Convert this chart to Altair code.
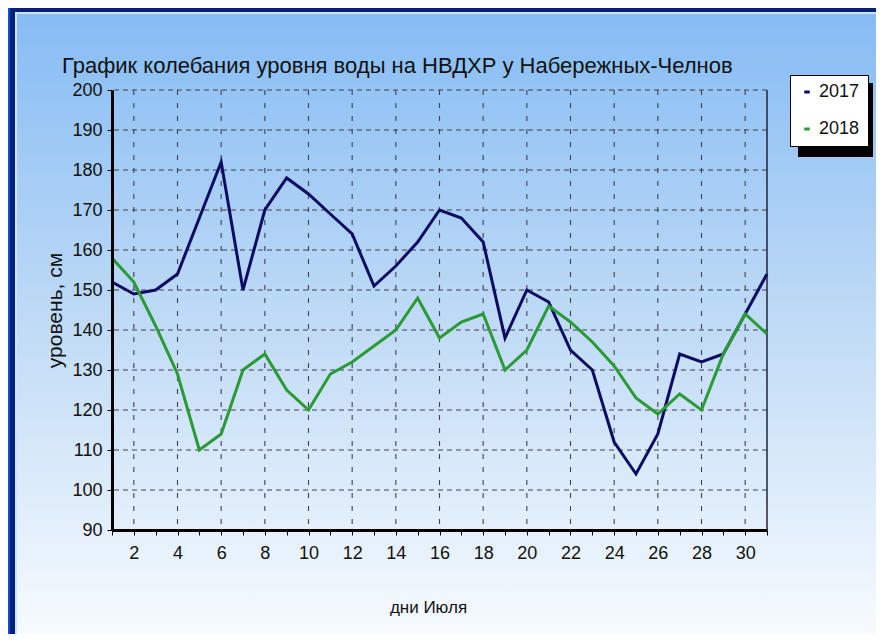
import altair as alt
import pandas as pd

# ---- data ----
days = list(range(1, 32))
lvl_2017 = [152, 149, 150, 154, 168, 182, 150, 170, 178, 174, 169, 164, 151, 156, 162, 170,
            168, 162, 138, 150, 147, 135, 130, 112, 104, 114, 134, 132, 134, 144, 154]
lvl_2018 = [158, 152, 141, 129, 110, 114, 130, 134, 125, 120, 129, 132, 136, 140, 148, 138,
            142, 144, 130, 135, 146, 142, 137, 131, 123, 119, 124, 120, 134, 144, 139]
series_names = ["2017", "2018"]
series_colors = ["#0c0c62", "#2a9a34"]
grid_days = list(range(2, 31, 2))
y_ticks = list(range(90, 201, 10))
title_text = "График колебания уровня воды на НВДХР у Набережных-Челнов"
x_title = "дни Июля"
y_title = "уровень, см"

FONT = "Liberation Sans, Arial, sans-serif"

W, H = 655, 440
PAD = {"left": 104, "top": 82, "right": 109, "bottom": 104}
XS = alt.Scale(domain=[1, 31], nice=False, zero=False)
YS = alt.Scale(domain=[90, 200], nice=False, zero=False)

XAX = alt.Axis(values=days, labelExpr="datum.value % 2 == 0 ? datum.label : ''",
               grid=False, domain=True, domainColor="#000", domainWidth=3,
               ticks=True, tickColor="#000", tickSize=5, labelOverlap=False,
               labelFont=FONT, labelFontSize=18, labelColor="#111",
               labelPadding=9, labelFlush=False, zindex=2,
               title=x_title, titleFont=FONT, titleFontSize=17,
               titleFontWeight="normal", titleColor="#111",
               titleX=316, titleY=77, titleBaseline="middle", titleAlign="center")
YAX = alt.Axis(values=y_ticks, grid=False, domain=True, domainColor="#000",
               domainWidth=3, ticks=True, tickColor="#000", tickSize=5,
               labelOverlap=False, labelFont=FONT, labelFontSize=18,
               labelColor="#111", labelPadding=5, zindex=2,
               title=y_title, titleFont=FONT, titleFontSize=21,
               titleFontWeight="normal", titleColor="#111",
               titleX=-57, titleY=220, titleAngle=-90, titleAlign="center",
               titleBaseline="middle")

df = pd.DataFrame({
    "day": days * 2,
    "level": lvl_2017 + lvl_2018,
    "year": [series_names[0]] * len(days) + [series_names[1]] * len(days),
})
one = pd.DataFrame({"k": [0]})

# decorative frame: navy strip + light gradient panel
navy = alt.Chart(one).mark_rect(color="#06217a").encode(
    x=alt.value(-102), x2=alt.value(W + 130), y=alt.value(-84), y2=alt.value(H + 130))
panel = alt.Chart(one).mark_rect(
    fill=alt.Gradient(gradient="linear", x1=0, x2=0, y1=0, y2=1,
                      stops=[alt.GradientStop(color="#86bcf4", offset=0),
                             alt.GradientStop(color="#c2dcf6", offset=0.5),
                             alt.GradientStop(color="#fbfdff", offset=1)]),
    stroke="#cfe4fb", strokeWidth=2,
).encode(x=alt.value(-96), x2=alt.value(W + 130), y=alt.value(-77), y2=alt.value(H + 130))

title = alt.Chart(pd.DataFrame({"t": [title_text]})).mark_text(
    font=FONT, fontSize=22, color="#111", align="left", baseline="alphabetic"
).encode(text="t:N", x=alt.value(-50), y=alt.value(-17))

shadow = alt.Chart(one).mark_rect(color="#000000").encode(
    x=alt.value(686), x2=alt.value(761), y=alt.value(-7), y2=alt.value(67))

vgrid = alt.Chart(pd.DataFrame({"day": grid_days})).mark_rule(
    color="#3c4252", strokeDash=[5, 8], strokeWidth=1.1
).encode(x=alt.X("day:Q", scale=XS, axis=XAX))

hgrid = alt.Chart(pd.DataFrame({"level": y_ticks})).mark_rule(
    color="#3c4252", strokeDash=[5, 4], strokeWidth=1.1
).encode(y=alt.Y("level:Q", scale=YS, axis=YAX))

right_edge = alt.Chart(one).mark_rule(color="#20243c", strokeWidth=1.5).encode(
    x=alt.value(W), y=alt.value(0), y2=alt.value(H))

lines = alt.Chart(df).mark_line(strokeWidth=3).encode(
    x=alt.X("day:Q", scale=XS, axis=XAX),
    y=alt.Y("level:Q", scale=YS, axis=YAX),
    color=alt.Color("year:N",
                    scale=alt.Scale(domain=series_names, range=series_colors),
                    legend=alt.Legend(title=None, orient="none", legendX=678, legendY=-15,
                                      fillColor="white", strokeColor="#000", padding=8,
                                      symbolType="stroke", symbolSize=30, symbolStrokeWidth=3,
                                      labelFont=FONT, labelFontSize=18, labelColor="#111",
                                      rowPadding=19, labelOffset=3, zindex=3)),
)

chart = alt.layer(navy, panel, title, shadow, vgrid, hgrid, right_edge, lines).properties(
    width=W, height=H, padding=PAD,
    autosize=alt.AutoSizeParams(type="none"),
    background="#0b4fd6",
).configure_view(stroke=None)

chart.save("out.html", embed_options={"renderer": "svg", "actions": False})
